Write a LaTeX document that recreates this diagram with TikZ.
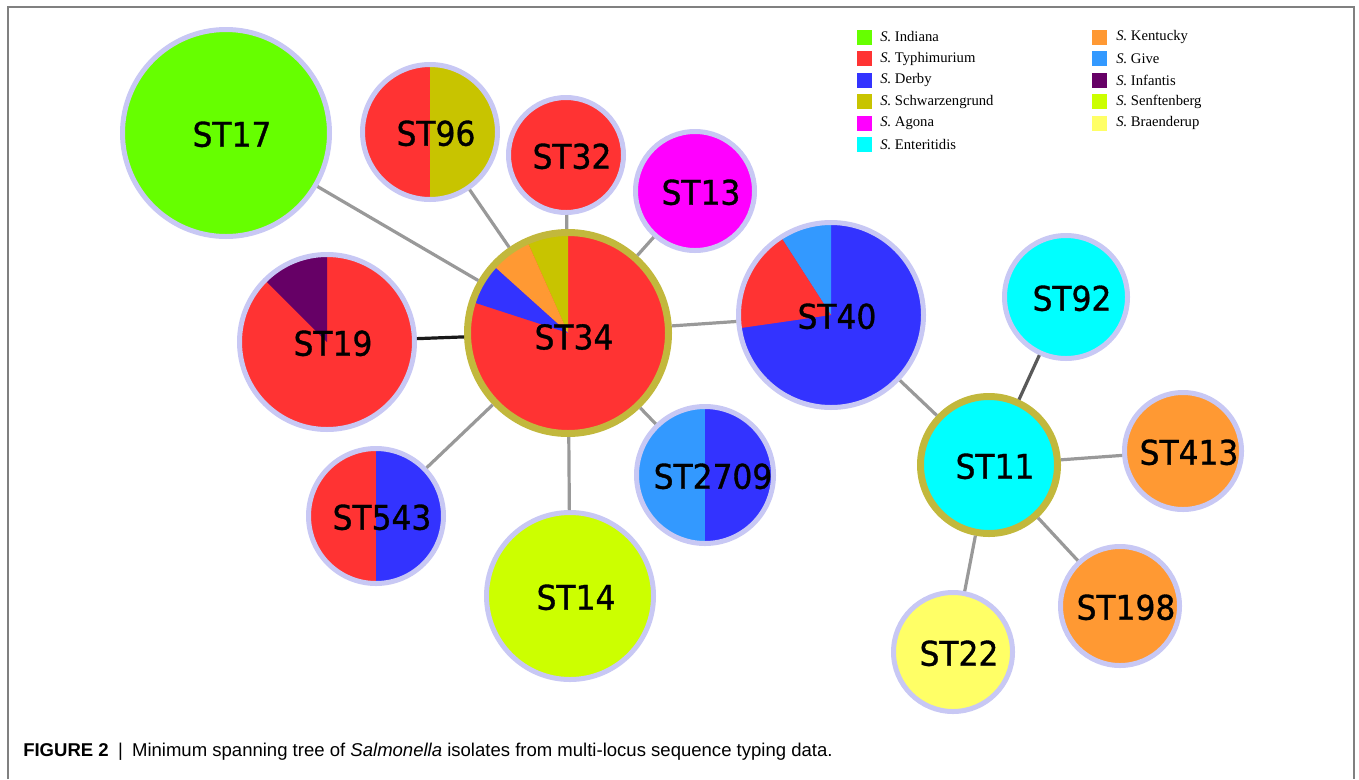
\documentclass[tikz,border=0pt]{standalone}
\usepackage{fontspec}
\setmainfont{Liberation Serif}
\newfontfamily\labfont[FakeStretch=0.92,FakeBold=1]{DejaVu Sans}
\newfontfamily\capfont{Liberation Sans}
\usetikzlibrary{backgrounds}
\definecolor{cInd}{HTML}{66FF00}
\definecolor{cTyp}{HTML}{FF3333}
\definecolor{cDer}{HTML}{3333FF}
\definecolor{cSch}{HTML}{C8C400}
\definecolor{cAgo}{HTML}{FF00FF}
\definecolor{cEnt}{HTML}{00FFFF}
\definecolor{cKen}{HTML}{FF9933}
\definecolor{cGiv}{HTML}{3399FF}
\definecolor{cInf}{HTML}{660066}
\definecolor{cSen}{HTML}{CCFF00}
\definecolor{cBra}{HTML}{FFFF66}
\definecolor{lav}{HTML}{C8C8F4}
\definecolor{hubbd}{HTML}{C2B83C}
\definecolor{edgegray}{HTML}{999999}
\definecolor{framegray}{HTML}{808080}
\tikzset{
  st/.style={circle, draw=lav, line width=3.75pt, inner sep=0pt},
  hub/.style={circle, draw=hubbd, line width=5.25pt, inner sep=0pt},
  lab/.style={font=\labfont\fontsize{25.5}{30}\selectfont, text=black, inner sep=0pt},
  edge/.style={draw=edgegray, line width=2.4pt},
  legsq/.style={minimum size=11.25pt, inner sep=0pt},
  legtx/.style={anchor=west, inner sep=0pt, font=\fontsize{11}{13}\selectfont},
}
\newcommand\wdg[5]{\fill[#5] (#1.center) -- ++(#3:#2) arc[start angle=#3, end angle=#4, radius=#2] -- cycle;}
\begin{document}
\begin{tikzpicture}[x=0.75pt,y=-0.75pt]
\useasboundingbox (0,0) rectangle (1359,779);
\draw[framegray, line width=1.5pt] (8,779) -- (8,7) -- (1354,7) -- (1354,779);

% nodes
\node[st, minimum size=155.25pt] (n17) at (226,133) {};
\node[st, minimum size=101.25pt] (n96) at (430,132) {};
\node[st, minimum size=86.25pt] (n32) at (566,155) {};
\node[st, minimum size=89.25pt] (n13) at (695,191) {};
\node[hub, minimum size=150.75pt] (n34) at (568,333) {};
\node[st, minimum size=138.75pt] (n40) at (831,315) {};
\node[st, minimum size=131.25pt] (n19) at (327,342) {};
\node[st, minimum size=101.25pt] (n543) at (376,516) {};
\node[st, minimum size=125.25pt] (n14) at (570,596) {};
\node[st, minimum size=102.75pt] (n2709) at (705,475) {};
\node[hub, minimum size=102.75pt] (n11) at (989,465) {};
\node[st, minimum size=92.25pt] (n92) at (1066,297) {};
\node[st, minimum size=87.75pt] (n413) at (1183,451) {};
\node[st, minimum size=89.25pt] (n198) at (1120,606) {};
\node[st, minimum size=89.25pt] (n22) at (953,652) {};

\begin{pgfonlayer}{background}
\fill[cInd] (n17.center) circle[radius=78pt];
\wdg{n96}{51.5pt}{90}{270}{cTyp}
\wdg{n96}{51.5pt}{-90}{90}{cSch}
\fill[cTyp] (n32.center) circle[radius=44pt];
\fill[cAgo] (n13.center) circle[radius=45.5pt];
\fill[cTyp] (n34.center) circle[radius=76pt];
\wdg{n34}{76pt}{90}{114}{cSch}
\wdg{n34}{76pt}{114}{138}{cKen}
\wdg{n34}{76pt}{138}{162}{cDer}
\fill[cDer] (n40.center) circle[radius=70pt];
\wdg{n40}{70pt}{90}{122.7}{cGiv}
\wdg{n40}{70pt}{122.7}{188.2}{cTyp}
\fill[cTyp] (n19.center) circle[radius=66.5pt];
\wdg{n19}{66.5pt}{90}{135}{cInf}
\wdg{n543}{51.5pt}{90}{270}{cTyp}
\wdg{n543}{51.5pt}{-90}{90}{cDer}
\fill[cSen] (n14.center) circle[radius=63.5pt];
\wdg{n2709}{52pt}{90}{270}{cGiv}
\wdg{n2709}{52pt}{-90}{90}{cDer}
\fill[cEnt] (n11.center) circle[radius=52pt];
\fill[cEnt] (n92.center) circle[radius=47pt];
\fill[cKen] (n413.center) circle[radius=44.5pt];
\fill[cKen] (n198.center) circle[radius=45.5pt];
\fill[cBra] (n22.center) circle[radius=45.5pt];
\end{pgfonlayer}

% edges
\draw[edge] (n17) -- (n34);
\draw[edge] (n96) -- (n34);
\draw[edge] (n32) -- (n34);
\draw[edge] (n13) -- (n34);
\draw[draw=black!90, line width=2.4pt] (n19) -- (n34);
\draw[edge] (n34) -- (n40);
\draw[edge] (n34) -- (n543);
\draw[edge] (n34) -- (n14);
\draw[edge] (n34) -- (n2709);
\draw[edge] (n40) -- (n11);
\draw[draw=black!65, line width=2.4pt] (n11) -- (n92);
\draw[edge] (n11) -- (n413);
\draw[edge] (n11) -- (n198);
\draw[edge] (n11) -- (n22);

% labels
\node[lab] (l17) at ([xshift=4.5pt,yshift=-1pt]n17.center) {ST17};
\node[lab] (l96) at ([xshift=4.5pt,yshift=-1pt]n96.center) {ST96};
\node[lab] (l32) at ([xshift=4.5pt,yshift=-1pt]n32.center) {ST32};
\node[lab] (l13) at ([xshift=4.5pt,yshift=-1pt]n13.center) {ST13};
\node[lab] (l34) at ([xshift=4.5pt,yshift=-3pt]n34.center) {ST34};
\node[lab] (l40) at ([xshift=4.5pt,yshift=-1pt]n40.center) {ST40};
\node[lab] (l19) at ([xshift=4.5pt,yshift=-1pt]n19.center) {ST19};
\node[lab] (l543) at ([xshift=4.5pt,yshift=-1pt]n543.center) {ST543};
\node[lab] (l14) at ([xshift=4.5pt,yshift=-1pt]n14.center) {ST14};
\node[lab] (l2709) at ([xshift=6pt,yshift=-1pt]n2709.center) {ST2709};
\node[lab] (l11) at ([xshift=4.5pt,yshift=-1pt]n11.center) {ST11};
\node[lab] (l92) at ([xshift=4.5pt,yshift=-1pt]n92.center) {ST92};
\node[lab] (l413) at ([xshift=4.5pt,yshift=-1pt]n413.center) {ST413};
\node[lab] (l198) at ([xshift=4.5pt,yshift=-1pt]n198.center) {ST198};
\node[lab] (l22) at ([xshift=4.5pt,yshift=-1pt]n22.center) {ST22};

% legend
\node[legsq, fill=cInd] (q1) at (864,37) {};
\node[legsq, fill=cTyp] (q2) at (864,58.5) {};
\node[legsq, fill=cDer] (q3) at (864,80) {};
\node[legsq, fill=cSch] (q4) at (864,101.5) {};
\node[legsq, fill=cAgo] (q5) at (864,123) {};
\node[legsq, fill=cEnt] (q6) at (864,144.5) {};
\node[legsq, fill=cKen] (q7) at (1099,37) {};
\node[legsq, fill=cGiv] (q8) at (1099,58.5) {};
\node[legsq, fill=cInf] (q9) at (1099,80) {};
\node[legsq, fill=cSen] (q10) at (1099,101.5) {};
\node[legsq, fill=cBra] (q11) at (1099,123) {};
\node[legtx] (t1) at (880,37) {\textit{S.} Indiana};
\node[legtx] (t2) at (880,58.5) {\textit{S.} Typhimurium};
\node[legtx] (t3) at (880,80) {\textit{S.} Derby};
\node[legtx] (t4) at (880,101.5) {\textit{S.} Schwarzengrund};
\node[legtx] (t5) at (880,123) {\textit{S.} Agona};
\node[legtx] (t6) at (880,144.5) {\textit{S.} Enteritidis};
\node[legtx] (t7) at (1116,37) {\textit{S.} Kentucky};
\node[legtx] (t8) at (1116,58.5) {\textit{S.} Give};
\node[legtx] (t9) at (1116,80) {\textit{S.} Infantis};
\node[legtx] (t10) at (1116,101.5) {\textit{S.} Senftenberg};
\node[legtx] (t11) at (1116,123) {\textit{S.} Braenderup};

% caption
\node[anchor=west, inner sep=0pt, font=\capfont\fontsize{13.9}{16}\selectfont] (cap) at (23,752) {\textbf{FIGURE 2}\enspace|\enspace Minimum spanning tree of \textit{Salmonella} isolates from multi-locus sequence typing data.};
\end{tikzpicture}
\end{document}
